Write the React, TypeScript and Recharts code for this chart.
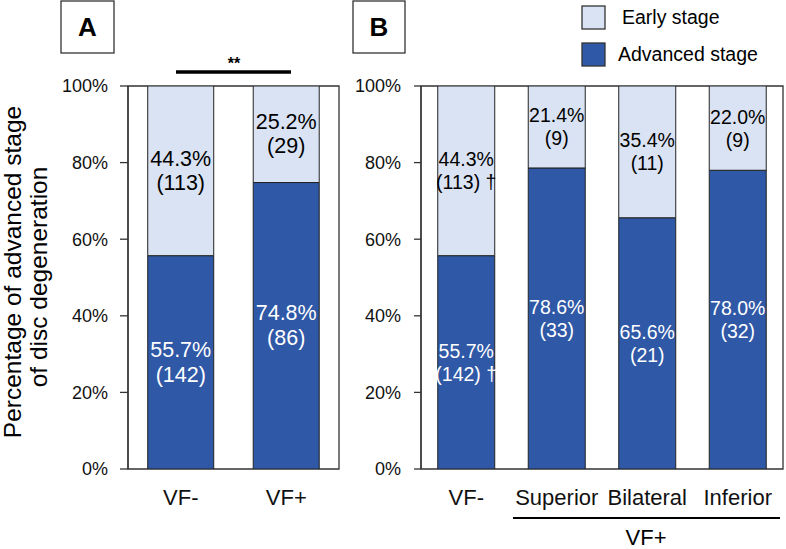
import React from "react";
import { BarChart, Bar, XAxis, YAxis, ReferenceArea, LabelList } from "recharts";

const categoriesA = ["VF-", "VF+"];
const advancedA = [55.7, 74.8];
const earlyA = [44.3, 25.2];
const advancedCountA = [142, 86];
const earlyCountA = [113, 29];

const categoriesB = ["VF-", "Superior", "Bilateral", "Inferior"];
const advancedB = [55.7, 78.6, 65.6, 78.0];
const earlyB = [44.3, 21.4, 35.4, 22.0];
const advancedCountB = [142, 33, 21, 32];
const earlyCountB = [113, 9, 11, 9];
const markB = ["\u2020", "", "", ""];
const markA = ["", ""];

const yTicks = [0, 20, 40, 60, 80, 100];

const DARK = "#2f58a6";
const LIGHT = "#dae3f3";
const EDGE = "#222";
const FONT = "Liberation Sans, Arial, sans-serif";

const dataA = categoriesA.map((c, i) => ({
  name: c,
  advanced: advancedA[i],
  early: earlyA[i],
}));
const dataB = categoriesB.map((c, i) => ({
  name: c,
  advanced: advancedB[i],
  early: earlyB[i],
}));

function makeLabel(
  values: number[],
  counts: number[],
  marks: string[],
  color: string,
  fontSize: number,
  lh: number
) {
  return (props: any) => {
    const { x, y, width, height, index } = props;
    const top = Number(y);
    const h = Number(height);
    const cx = Number(x) + Number(width) / 2;
    const cy = top + h / 2;
    const mark = marks[index] ? " " + marks[index] : "";
    return (
      <g>
        <text
          x={cx}
          y={cy - lh / 2}
          textAnchor="middle"
          dominantBaseline="central"
          fill={color}
          fontSize={fontSize}
          fontFamily={FONT}
        >
          {values[index].toFixed(1) + "%"}
        </text>
        <text
          x={cx}
          y={cy + lh / 2}
          textAnchor="middle"
          dominantBaseline="central"
          fill={color}
          fontSize={fontSize}
          fontFamily={FONT}
        >
          {"(" + counts[index] + ")" + mark}
        </text>
      </g>
    );
  };
}

const tickStyle = { fontSize: 18, fill: "#111", fontFamily: FONT };
const xTickStyle = { fontSize: 22, fill: "#111", fontFamily: FONT };

export default function App() {
  return (
    <div
      style={{
        position: "absolute",
        left: 0,
        top: 0,
        width: 786,
        height: 549,
        background: "#fff",
        fontFamily: FONT,
      }}
    >
      <div style={{ position: "absolute", left: 0, top: 0 }}>
        <BarChart
          width={345}
          height={549}
          data={dataA}
          margin={{ top: 86, right: 6, bottom: 50, left: 68 }}
          barCategoryGap="18.7%"
        >
          <XAxis
            dataKey="name"
            height={30}
            axisLine={false}
            tickLine={false}
            tickSize={0}
            tickMargin={20}
            tick={xTickStyle}
            interval={0}
          />
          <YAxis
            width={60}
            domain={[0, 100]}
            ticks={yTicks}
            allowDataOverflow
            tickFormatter={(v: number) => v + "%"}
            tick={tickStyle}
            tickSize={8}
            tickMargin={12}
            axisLine={{ stroke: "#333", strokeWidth: 1.3 }}
            tickLine={{ stroke: "#333", strokeWidth: 1.3 }}
          />
          <Bar dataKey="advanced" stackId="s" fill={DARK} stroke={EDGE} strokeWidth={1} isAnimationActive={false}>
            <LabelList content={makeLabel(advancedA, advancedCountA, markA, "#fff", 21.5, 25)} />
          </Bar>
          <Bar dataKey="early" stackId="s" fill={LIGHT} stroke={EDGE} strokeWidth={1} isAnimationActive={false}>
            <LabelList content={makeLabel(earlyA, earlyCountA, markA, "#000", 21.5, 24)} />
          </Bar>
          <ReferenceArea y1={0} y2={100} fill="none" stroke="#333" strokeWidth={1.3} ifOverflow="visible" />
        </BarChart>
      </div>

      <div style={{ position: "absolute", left: 345, top: 0 }}>
        <BarChart
          width={441}
          height={549}
          data={dataB}
          margin={{ top: 86, right: 3, bottom: 50, left: 16 }}
          barCategoryGap="18.5%"
        >
          <XAxis
            dataKey="name"
            height={30}
            axisLine={false}
            tickLine={false}
            tickSize={0}
            tickMargin={20}
            tick={xTickStyle}
            interval={0}
          />
          <YAxis
            width={60}
            domain={[0, 100]}
            ticks={yTicks}
            allowDataOverflow
            tickFormatter={(v: number) => v + "%"}
            tick={tickStyle}
            tickSize={7}
            tickMargin={13}
            axisLine={{ stroke: "#333", strokeWidth: 1.3 }}
            tickLine={{ stroke: "#333", strokeWidth: 1.3 }}
          />
          <Bar dataKey="advanced" stackId="s" fill={DARK} stroke={EDGE} strokeWidth={1} isAnimationActive={false}>
            <LabelList content={makeLabel(advancedB, advancedCountB, markB, "#fff", 19.5, 23)} />
          </Bar>
          <Bar dataKey="early" stackId="s" fill={LIGHT} stroke={EDGE} strokeWidth={1} isAnimationActive={false}>
            <LabelList content={makeLabel(earlyB, earlyCountB, markB, "#000", 19.5, 23)} />
          </Bar>
          <ReferenceArea y1={0} y2={100} fill="none" stroke="#333" strokeWidth={1.3} ifOverflow="visible" />
        </BarChart>
      </div>

      <svg
        width={786}
        height={549}
        style={{ position: "absolute", left: 0, top: 0, pointerEvents: "none" }}
      >
        <g fontFamily={FONT}>
          <text
            transform="translate(21,272) rotate(-90)"
            textAnchor="middle"
            fontSize={24.5}
            fill="#000"
          >
            Percentage of advanced stage
          </text>
          <text
            transform="translate(47,277) rotate(-90)"
            textAnchor="middle"
            fontSize={24.5}
            fill="#000"
          >
            of disc degeneration
          </text>

          <rect x={61} y={1} width={53} height={52} fill="#fff" stroke="#333" strokeWidth={1.3} />
          <text x={87.5} y={27} textAnchor="middle" dominantBaseline="central" fontSize={26} fontWeight="bold" fill="#000">
            A
          </text>
          <rect x={353} y={1} width={52} height={52} fill="#fff" stroke="#333" strokeWidth={1.3} />
          <text x={379} y={27} textAnchor="middle" dominantBaseline="central" fontSize={26} fontWeight="bold" fill="#000">
            B
          </text>

          <line x1={176} y1={72} x2={291} y2={72} stroke="#000" strokeWidth={3.5} />
          <text x={234} y={69} textAnchor="middle" fontSize={16} fontWeight="bold" fill="#000">
            **
          </text>

          <rect x={582} y={6} width={23} height={23} fill={LIGHT} stroke="#333" strokeWidth={1.3} />
          <text x={622} y={24} fontSize={19.5} fill="#000">
            Early stage
          </text>
          <rect x={582} y={43} width={23} height={23} fill={DARK} stroke="#333" strokeWidth={1.3} />
          <text x={618} y={61} fontSize={19.5} fill="#000">
            Advanced stage
          </text>

          <line x1={513} y1={518} x2={780} y2={518} stroke="#000" strokeWidth={2} />
          <text x={646} y={545} textAnchor="middle" fontSize={22} fill="#000">
            VF+
          </text>
        </g>
      </svg>
    </div>
  );
}
